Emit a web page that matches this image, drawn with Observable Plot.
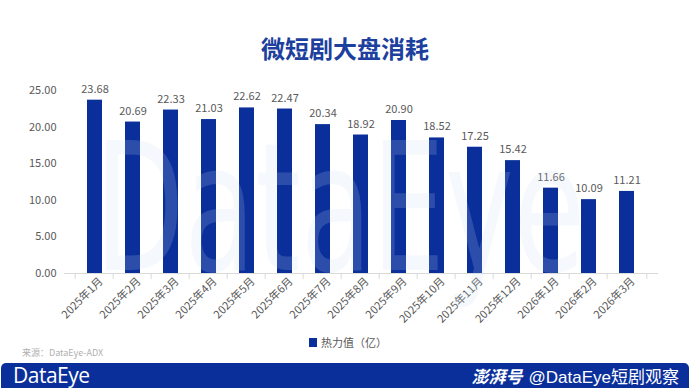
<!DOCTYPE html>
<html><head><meta charset="utf-8">
<script src="https://cdn.jsdelivr.net/npm/d3@7"></script>
<script src="https://cdn.jsdelivr.net/npm/@observablehq/plot@0.6"></script>
<style>
html,body{margin:0;padding:0;background:#fff;width:690px;height:388px;overflow:hidden;font-family:"Noto Sans CJK SC","Noto Sans",sans-serif;}
#wrap{position:relative;width:690px;height:388px;}
#title{position:absolute;left:0;top:31px;width:690px;text-align:center;font-size:24px;font-weight:bold;color:#1d3f9e;line-height:34px;}
#chart{position:absolute;left:0;top:0;}
#wm{position:absolute;left:0;top:0;pointer-events:none;}
#legend{position:absolute;left:309px;top:334px;font-size:11px;color:#595959;display:flex;align-items:center;gap:4px;}
#legend span.sw{display:inline-block;width:8px;height:9px;background:#0a2f9b;}
#src{position:absolute;left:22px;top:346px;font-size:9px;color:#b0b0b0;}
#footer{position:absolute;left:1px;top:363px;width:688px;height:25px;background:#0a2f9b;border-radius:5px 5px 0 0;}
#logo{position:absolute;left:12px;top:0px;color:#fff;font-family:"Open Sans",sans-serif;font-size:21px;font-weight:500;line-height:25px;letter-spacing:-0.5px;}
#right{position:absolute;right:10px;top:0;color:#fff;font-size:17px;line-height:25px;font-family:"Liberation Sans","Noto Sans CJK SC",sans-serif;}
#right b{font-style:italic;margin-right:6px;font-family:"Noto Sans CJK SC";}
</style></head>
<body><div id="wrap">
<div id="title">微短剧大盘消耗</div>
<div id="chart"></div>
<svg id="wm" width="690" height="388"><text x="95" y="270" textLength="490" lengthAdjust="spacingAndGlyphs" font-family="DejaVu Sans" font-size="178" fill="rgba(200,215,240,0.18)">DataEye</text></svg>
<div id="legend"><span class="sw"></span><span>热力值（亿）</span></div>
<div id="src">来源：DataEye-ADX</div>
<div id="footer"><div id="logo">DataEye</div><div id="right"><b>澎湃号</b>@DataEye短剧观察</div></div>
</div>
<script>
const months = ["2025年1月","2025年2月","2025年3月","2025年4月","2025年5月","2025年6月","2025年7月","2025年8月","2025年9月","2025年10月","2025年11月","2025年12月","2026年1月","2026年2月","2026年3月"];
const values = [23.68,20.69,22.33,21.03,22.62,22.47,20.34,18.92,20.90,18.52,17.25,15.42,11.66,10.09,11.21];
const yTicks = [0,5,10,15,20,25];
const seriesName = "热力值（亿）";

const data = months.map((m,i)=>({month:m, value:values[i]}));
const fmt = d3.format(".2f");

const chart = Plot.plot({
  width: 690,
  height: 330,
  marginTop: 90,
  marginBottom: 57,
  marginLeft: 64,
  marginRight: 32,
  style: {fontFamily: "'Noto Sans CJK SC', sans-serif", fontSize: "11px", color: "#595959", background: "transparent"},
  x: {domain: months, padding: 0.6, label: null},
  y: {domain: [0,25], label: null},
  marks: [
    Plot.barY(data, {x:"month", y:"value", fill:"#0a2f9b"}),
    Plot.text(data, {x:"month", y:"value", text: d=>fmt(d.value), dy:-11, fill:"#595959", fontSize:11}),
    Plot.axisY({ticks: yTicks, tickFormat: fmt, tickSize: 0, tickPadding: 8, fontSize: 11, fill:"#595959"}),
    Plot.ruleY([0], {stroke:"#d9d9d9"}),
    Plot.ruleX(months, {x: d=>d, y1:0, y2:0, dx:-19.8, insetBottom:-6, stroke:"#d9d9d9"}),
    Plot.ruleX(months.slice(-1), {x: d=>d, y1:0, y2:0, dx:19.8, insetBottom:-6, stroke:"#d9d9d9"}),
    Plot.axisX({tickSize: 0, tickRotate: -45, tickPadding: 2, fontSize: 11, fill:"#595959", dx: 6, dy: 4})
  ]
});
document.getElementById("chart").appendChild(chart);
</script>
</body></html>
